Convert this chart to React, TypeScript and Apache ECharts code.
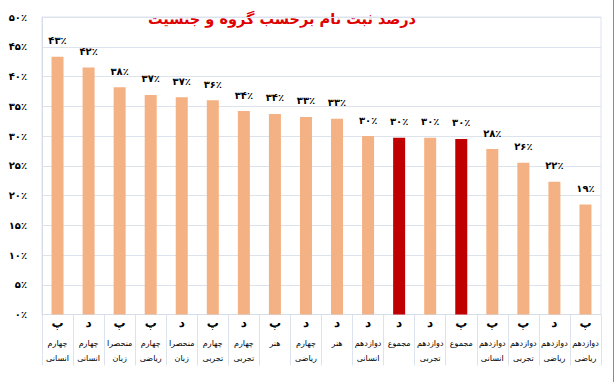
import React, { useEffect, useRef } from "react";
import * as echarts from "echarts";

const titleText = "درصد ثبت نام برحسب گروه و جنسیت";

const genders = ["پ", "د", "پ", "پ", "د", "پ", "د", "پ", "د", "د", "د", "د", "د", "پ", "پ", "پ", "د", "پ"];

const groupNames = [
  "چهارم\nانسانی",
  "چهارم\nانسانی",
  "منحصرا\nزبان",
  "چهارم\nریاضی",
  "منحصرا\nزبان",
  "چهارم\nتجربی",
  "چهارم\nتجربی",
  "هنر",
  "چهارم\nریاضی",
  "هنر",
  "دوازدهم\nانسانی",
  "مجموع",
  "دوازدهم\nتجربی",
  "مجموع",
  "دوازدهم\nانسانی",
  "دوازدهم\nتجربی",
  "دوازدهم\nریاضی",
  "دوازدهم\nریاضی",
];

const values = [43.3, 41.5, 38.2, 36.9, 36.5, 36.0, 34.2, 33.7, 33.2, 32.9, 30.0, 29.7, 29.7, 29.5, 27.8, 25.5, 22.3, 18.5];

const highlighted = [false, false, false, false, false, false, false, false, false, false, false, true, false, true, false, false, false, false];

const yTicks = { min: 0, max: 50, interval: 5 };

const faDigits = "۰۱۲۳۴۵۶۷۸۹";
const toFa = (n: number) => String(n).replace(/\d/g, (d) => faDigits[Number(d)]);

const FONT = "'DejaVu Sans', sans-serif";

export default function App() {
  const ref = useRef<HTMLDivElement>(null);
  useEffect(() => {
    if (!ref.current) return;
    const chart = echarts.init(ref.current, undefined, { renderer: "svg" });
    const categories = groupNames.map((n, i) => genders[i] + "|" + n);
    chart.setOption({
      animation: false,
      backgroundColor: "#ffffff",
      grid: {
        left: 42,
        right: 14,
        top: 17,
        bottom: 67.5,
        show: true,
        borderColor: "#DCE3EC",
        borderWidth: 1,
        backgroundColor: "transparent",
      },
      xAxis: {
        type: "category",
        data: categories,
        axisLine: { show: true, lineStyle: { color: "#D5DDE8", width: 1 } },
        axisTick: { show: true, length: 51, lineStyle: { color: "#DCE3EC" } },
        axisLabel: {
          interval: 0,
          margin: 0,
          fontFamily: FONT,
          formatter: (v: string) => {
            const [g, n] = v.split("|");
            const lines = n.split("\n").map((l) => `{n|${l}}`).join("\n");
            return `{g|${g}}\n{s| }\n${lines}`;
          },
          rich: {
            g: { fontSize: 12, fontWeight: "bold", color: "#000", lineHeight: 16, fontFamily: FONT },
            s: { fontSize: 4, lineHeight: 6 },
            n: { fontSize: 8, color: "#000", lineHeight: 14.5, fontFamily: FONT },
          },
        },
      },
      yAxis: {
        type: "value",
        min: yTicks.min,
        max: yTicks.max,
        interval: yTicks.interval,
        axisLine: { show: true, lineStyle: { color: "#D5DDE8" } },
        axisTick: { show: false },
        splitLine: { show: true, lineStyle: { color: "#DCE3EC", width: 1 } },
        axisLabel: {
          margin: 15,
          color: "#000",
          fontSize: 10,
          fontWeight: "bold",
          fontFamily: FONT,
          formatter: (v: number) => toFa(v) + "٪",
        },
      },
      series: [
        {
          type: "bar",
          barWidth: 12,
          data: values.map((v, i) => ({
            value: v,
            itemStyle: { color: highlighted[i] ? "#C00000" : "#F4B183" },
          })),
          label: {
            show: true,
            position: "top",
            distance: 11,
            color: "#000",
            fontSize: 10,
            fontWeight: "bold",
            fontFamily: FONT,
            formatter: (p: any) => toFa(Math.round(p.value)) + "٪",
          },
        },
      ],
      graphic: [
        {
          type: "text",
          x: 282,
          y: 19,
          style: {
            text: titleText,
            fill: "#E00000",
            font: "bold 14.5px 'DejaVu Sans', sans-serif",
            textAlign: "center",
            textVerticalAlign: "middle",
          },
        },
        {
          type: "line",
          shape: { x1: 613.5, y1: 0, x2: 613.5, y2: 382 },
          style: { stroke: "#8C8C8C", lineWidth: 1 },
        },
      ],
    });
    return () => chart.dispose();
  }, []);
  return <div ref={ref} style={{ position: "fixed", left: 0, top: 0, width: 615, height: 382 }} />;
}
